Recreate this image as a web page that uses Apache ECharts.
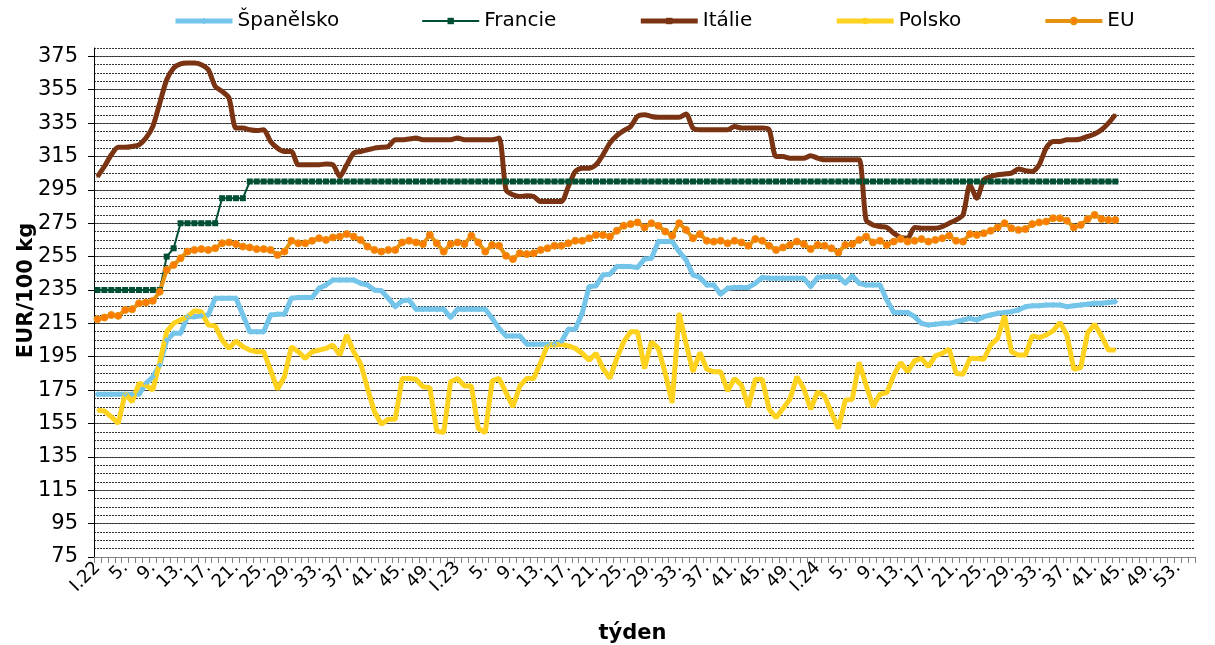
<!DOCTYPE html>
<html>
<head>
<meta charset="utf-8">
<script src="https://cdn.jsdelivr.net/npm/echarts@6/dist/echarts.min.js"></script>
<style>
  html, body { margin: 0; padding: 0; background: #fff; }
  #chart { width: 1215px; height: 645px; }
</style>
</head>
<body>
<div id="chart"></div>
<script>
// týdny 2022 (1-52), 2023 (1-52), 2024 (1-55, osa je delší než data)
const roky = [['22', 52], ['23', 52], ['24', 55]]
const tydny = []
roky.forEach(([r, n]) => {
  for (let w = 1; w <= n; w++) tydny.push(w === 1 ? 'I.' + r : w + '.')
})

// ceny EUR/100 kg, týden po týdnu od I.22 do 44. týdne 2024
const spanelsko = [
  172.5, 172.5, 172.5, 172.5, 172.5, 172.5, 172.5, 179, 183, 190,
  205, 209, 209, 219, 219, 219.5, 220, 230, 230, 230,
  230, 220, 210, 210, 210, 220, 220.5, 220.5, 230, 230.5,
  230.5, 230.5, 236, 238, 241, 241, 241, 241, 239, 238,
  235, 234.5, 230, 225, 228.5, 229, 223.5, 223.5, 223.5, 223.5,
  223.5, 218.5, 223.5, 223.5, 223.5, 223.5, 223.5, 218, 212, 207.5,
  207.5, 207.5, 202.5, 202.5, 202.5, 202.5, 202.5, 204, 211.5, 211.5,
  221, 237, 237.5, 244, 244.5, 249, 249, 249, 248.5, 253.5,
  254, 264, 264, 264, 258, 253, 244, 242.5, 238, 238,
  232.5, 236, 236.5, 236.5, 236.5, 239, 242.5, 242, 242, 242,
  242, 242, 242, 237, 242.5, 243, 243, 243, 239, 243.5,
  239, 238, 238, 238, 229, 221.5, 221.5, 221.5, 219, 215,
  214, 214.5, 215, 215, 216, 217, 218, 217, 219, 220,
  221, 221.5, 222, 223, 225, 225.5, 225.5, 226, 226, 226,
  225, 225.5, 226, 226.5, 227, 227, 227.5, 228
]
const francie = [
  235, 235, 235, 235, 235, 235, 235, 235, 235, 235,
  255, 260, 275, 275, 275, 275, 275, 275, 290, 290,
  290, 290, 300, 300, 300, 300, 300, 300, 300, 300,
  300, 300, 300, 300, 300, 300, 300, 300, 300, 300,
  300, 300, 300, 300, 300, 300, 300, 300, 300, 300,
  300, 300, 300, 300, 300, 300, 300, 300, 300, 300,
  300, 300, 300, 300, 300, 300, 300, 300, 300, 300,
  300, 300, 300, 300, 300, 300, 300, 300, 300, 300,
  300, 300, 300, 300, 300, 300, 300, 300, 300, 300,
  300, 300, 300, 300, 300, 300, 300, 300, 300, 300,
  300, 300, 300, 300, 300, 300, 300, 300, 300, 300,
  300, 300, 300, 300, 300, 300, 300, 300, 300, 300,
  300, 300, 300, 300, 300, 300, 300, 300, 300, 300,
  300, 300, 300, 300, 300, 300, 300, 300, 300, 300,
  300, 300, 300, 300, 300, 300, 300, 300
]
const italie = [
  303, 309, 316, 320.5, 320.5, 321, 322, 326, 333, 347,
  361, 368, 370.5, 371, 371, 370, 367, 357, 354, 350,
  332, 332, 331, 330.5, 331, 324, 320, 318, 318, 310,
  310, 310, 310, 310.5, 310, 303, 310, 317, 318, 319,
  320, 320.5, 321, 325, 325, 325.5, 326, 325, 325, 325,
  325, 325, 326, 325, 325, 325, 325, 325, 326, 295,
  292, 291, 291.5, 291, 288, 288, 288, 288, 297, 306,
  308, 308, 310, 316, 323, 327.5, 330.5, 333, 339, 340,
  339, 338.5, 338.5, 338.5, 338.5, 340.5, 332, 331, 331, 331,
  331, 331, 333, 332, 332, 332, 332, 331, 315, 315,
  314, 314, 314, 315.5, 314, 313, 313, 313, 313, 313,
  313, 277, 274, 273, 272.5, 269, 266.5, 266, 272.5, 272,
  272, 272, 273, 275, 277, 280, 298, 290, 301, 303,
  304, 304.5, 305, 307.5, 306.5, 306, 310, 320, 324, 324,
  325, 325, 325.5, 327, 328.5, 331, 335, 340
]
const polsko = [
  163, 162.5, 159, 155, 173, 168, 179, 178, 175, 192,
  210, 215, 217, 219, 222.5, 222, 214, 213.5, 205, 200,
  204.5, 201, 199, 198, 198, 187, 175.5, 183, 201, 198,
  194, 198, 199, 200, 202, 196, 208, 198, 191, 176,
  162, 154.5, 157.5, 157.5, 182, 182, 181.5, 177, 176.5, 150.5,
  149.5, 180, 182, 177.5, 177.5, 152, 149.5, 180.5, 182, 173.5,
  165, 177.5, 182, 182, 191.5, 202, 202, 202.5, 201.5, 200,
  197, 193, 197, 188, 182, 194, 204, 210, 210, 188,
  204, 200, 185, 167.5, 221, 203, 186, 197.5, 187.5, 186,
  186, 174.5, 182, 178, 165, 181.5, 181.5, 163.5, 158.5, 164,
  169.5, 183, 176, 163.5, 174, 171.5, 161.5, 152, 169, 169.5,
  191.5, 178, 165, 172.5, 173.5, 184, 191.5, 186, 192.5, 194,
  189, 195.5, 197, 199.5, 185, 184.5, 194, 194, 193.5, 202,
  206, 219.5, 198, 196, 196, 207.5, 206.5, 208, 210.5, 215.5,
  208, 187.5, 188.5, 209.5, 214.5, 207.5, 199, 199
]
const eu = [
  217.5, 218.5, 220, 219.5, 223, 223.5, 227, 227.5, 228.5, 234,
  247, 250, 254, 258, 259, 259.5, 259, 260, 263, 263.5,
  262.5, 261, 260.5, 259.5, 259.5, 259, 256, 258, 264.5, 263,
  263, 264.5, 266, 265, 266.5, 267, 268.5, 267, 265, 261,
  259, 258, 259, 259, 263.5, 264.5, 263.5, 262.5, 268, 263,
  258, 262.5, 263.5, 262.5, 267.5, 263.5, 258, 262, 261.5, 255.5,
  253.5, 257, 256.5, 257, 259, 260, 261.5, 261.5, 263, 264.5,
  264.5, 266, 268, 268, 267, 270.5, 273.5, 274.5, 275.5, 272.5,
  275, 273.5, 270, 267.5, 275, 271, 266, 268.5, 264.5, 264,
  264.5, 263, 264.5, 263.5, 261.5, 265.5, 264.5, 261.5, 259, 260.5,
  262, 264, 262.5, 259.5, 262, 261.5, 260, 257.5, 262, 262.5,
  265, 267, 263.5, 264.5, 262, 264, 265.5, 264, 264.5, 265.5,
  264, 265, 266, 267.5, 264.5, 264, 268.5, 268, 269, 270.5,
  272.5, 275, 272, 271, 271.5, 274.5, 275.5, 276, 278, 278,
  276.5, 272.5, 274, 277.5, 280, 277.5, 277, 277
]

const pismo = 'DejaVu Sans'

const chart = echarts.init(document.getElementById('chart'))

const option = {
  animation: false,
  backgroundColor: '#fff',
  textStyle: { fontFamily: pismo },
  legend: {
    top: 6,
    left: 168,
    itemGap: 82,
    itemWidth: 57,
    itemHeight: 8,
    lineStyle: { width: 'inherit' },
    textStyle: { fontFamily: pismo, fontSize: 20, color: '#000' }
  },
  grid: { left: 94, right: 20, top: 48, bottom: 88, outerBoundsMode: 'none' },
  xAxis: {
    type: 'category',
    data: tydny,
    boundaryGap: true,
    name: 'týden',
    nameLocation: 'middle',
    nameGap: 66,
    nameMoveOverlap: false,
    nameTextStyle: { fontFamily: pismo, fontSize: 21, fontWeight: 'bold', color: '#000', padding: [0, 24, 0, 0] },
    axisLine: { lineStyle: { color: '#808080', width: 1 } },
    axisTick: { show: true, interval: 0, length: 6, lineStyle: { color: '#808080' } },
    axisLabel: { interval: 3, rotate: 45, fontFamily: pismo, fontSize: 18, color: '#000', margin: 8 },
    splitLine: { show: false }
  },
  yAxis: [
    {
      type: 'value',
      min: 75,
      max: 380,
      interval: 20,
      name: 'EUR/100 kg',
      nameLocation: 'middle',
      nameRotate: 90,
      nameGap: 57,
      nameMoveOverlap: false,
      nameTextStyle: { fontFamily: pismo, fontSize: 21, fontWeight: 'bold', color: '#000', padding: [0, 0, 0, 24] },
      axisLine: { show: true, lineStyle: { color: '#000' } },
      axisTick: { show: true, length: 6, lineStyle: { color: '#000' } },
      axisLabel: { fontFamily: pismo, fontSize: 21, color: '#000', margin: 16, showMaxLabel: false },
      splitLine: { show: true, showMaxLine: false, lineStyle: { color: '#5a5a5a', width: 1 } }
    },
    {
      // pomocná osa jen pro jemnou mřížku po 5
      type: 'value',
      min: 75,
      max: 380,
      interval: 5,
      position: 'left',
      axisLine: { show: false },
      axisTick: { show: false },
      axisLabel: { show: false },
      splitLine: { show: true, lineStyle: { color: '#333', width: 1, type: [2, 1] } }
    }
  ],
  series: [
    {
      name: 'Španělsko',
      type: 'line',
      data: spanelsko,
      color: '#74C5E9',
      lineStyle: { width: 5 },
      symbol: 'diamond',
      symbolSize: 6,
      showAllSymbol: true
    },
    {
      name: 'Francie',
      type: 'line',
      data: francie,
      color: '#004F32',
      lineStyle: { width: 2 },
      symbol: 'rect',
      symbolSize: 6,
      showAllSymbol: true
    },
    {
      name: 'Itálie',
      type: 'line',
      data: italie,
      color: '#7A3413',
      lineStyle: { width: 5 },
      smooth: 0.25,
      symbol: 'rect',
      symbolSize: 2,
      showAllSymbol: true
    },
    {
      name: 'Polsko',
      type: 'line',
      data: polsko,
      color: '#FFD21F',
      lineStyle: { width: 5 },
      symbol: 'circle',
      symbolSize: 2,
      showAllSymbol: true
    },
    {
      name: 'EU',
      type: 'line',
      data: eu,
      color: '#E6920E',
      lineStyle: { width: 4, color: '#E6920E' },
      symbol: 'circle',
      symbolSize: 7,
      showAllSymbol: true,
      itemStyle: { color: '#FF7A00', borderColor: '#E6920E', borderWidth: 1 }
    }
  ]
}

chart.setOption(option)
window.onresize = () => chart.resize()
</script>
</body>
</html>
